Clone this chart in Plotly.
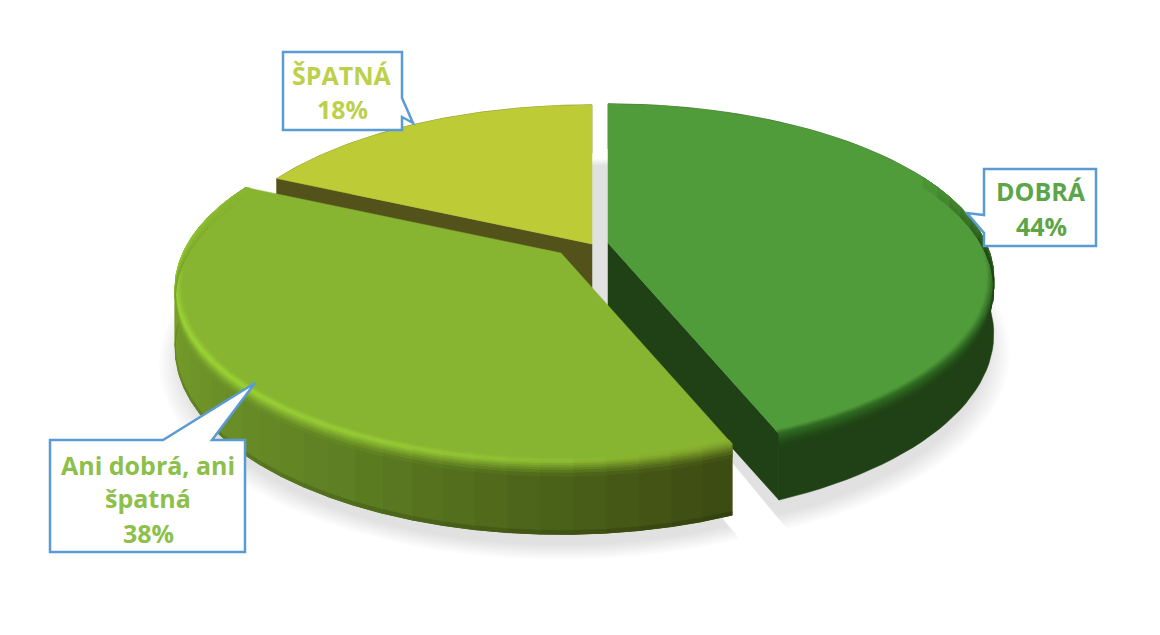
import numpy as np
import plotly.graph_objects as go

# Survey results
categories = ["DOBRÁ", "Ani dobrá, ani špatná", "ŠPATNÁ"]
shares = [44, 38, 18]
label_lines = [["DOBRÁ"], ["Ani dobrá, ani", "špatná"], ["ŠPATNÁ"]]

# Scene geometry: canvas pixels, homography of a tilted disc
RX, RY, K = 378.0, 167.0, 0.2
CENTERS = {"DOBRÁ": (608, 243), "Ani dobrá, ani špatná": (561, 253), "ŠPATNÁ": (592, 244)}


def hex2rgb(c):
    return np.array([int(c[i:i + 2], 16) for i in (1, 3, 5)], float)


def mix(a, b, t):
    return a + (b - a) * t


def css(c):
    return "rgb(%d,%d,%d)" % tuple(np.clip(np.round(c), 0, 255))


def project(center, theta, r=1.0, z=0.0):
    """Map disc polar coordinates (clockwise from the back) to canvas pixels."""
    u, v = r * np.sin(theta), r * np.cos(theta)
    w = 1 + K * v
    return center[0] + RX * u / w, center[1] - RY * v / w + z / (1 + K * np.cos(theta))


def ramp(stops, value):
    xs = [s[0] for s in stops]
    return np.array([np.interp(value, xs, [hex2rgb(s[1])[i] for s in stops]) for i in range(3)])


fig = go.Figure()


def poly(xs, ys, color, width=1.4):
    fig.add_trace(go.Scatter(
        x=list(xs), y=list(ys), mode="lines", fill="toself", fillcolor=color,
        line=dict(color=color, width=width), hoverinfo="skip", showlegend=False,
    ))


def arc(center, a0, a1, r=1.0, z=0.0, n=60):
    th = np.linspace(a0, a1, n)
    return project(center, th, r, z)


# Slice angular extents from the shares
total = sum(shares)
edges = np.cumsum([0] + shares) / total * 2 * np.pi
spans = {c: (edges[i], edges[i + 1]) for i, c in enumerate(categories)}

# Soft drop shadow, one subpath per slice so overlaps stay flat
SHADOW_DROP = 70.0
for grow in np.linspace(1.04, .985, 10):
    xs, ys = [], []
    for c in categories:
        a0, a1 = spans[c]
        cx, cy = CENTERS[c]
        if c == "ŠPATNÁ":
            cx += 18
        ax, ay = arc((cx, cy), a0, a1, grow, SHADOW_DROP)
        xs += [cx] + list(ax) + [cx, None]
        ys += [cy + SHADOW_DROP] + list(ay) + [cy + SHADOW_DROP, None]
    fig.add_trace(go.Scatter(
        x=xs, y=ys, mode="none", fill="toself", fillcolor="rgba(0,0,0,0.0105)",
        hoverinfo="skip", showlegend=False,
    ))

GREEN = dict(top="#519c3a", depth=54.0, wall=[(0, "#1f4115"), (7, "#1f4115")],
             rim=[(0, "#2f6a22"), (7, "#2f6a22")], cut="#1f4115", edge=False)
OLIVE = dict(
    top="#88b531", depth=58.0,
    wall=[(2.76, "#3c4a12"), (3.14, "#4a6018"), (3.66, "#5f8023"), (4.19, "#6f9429"), (4.71, "#7ba32c"), (5.2, "#7fa92c")],
    rim=[(2.76, "#7d9f2a"), (3.14, "#8fbf33"), (3.5, "#98cc36"), (4.2, "#9dd736"), (5.2, "#90c62f")],
    cut=None, edge=True,
)
YELLOW = dict(top="#bccb36", depth=58.0, wall=[(0, "#52521a"), (7, "#52521a")],
              rim=[(0, "#bccb36"), (7, "#bccb36")], cut="#52521a", edge=False)

# Rounded edge profile: radius, then drop as a fraction of the wall height
BANDS = [(.984, 0), (.988, 0), (.992, 0), (.996, 0), (1, 0), (1, .03), (1, .06),
         (1, .09), (1, .12), (1, .16), (1, .20)]


def draw_slice(cat, style, step=np.radians(4), bevel=True):
    center = CENTERS[cat]
    depth = style["depth"]
    a0, a1 = spans[cat]
    top = hex2rgb(style["top"])
    n = max(2, int((a1 - a0) / step))
    th = np.linspace(a0, a1, n + 1)

    # Backing for the wall in its middle tone
    ux, uy = arc(center, a0, a1, 1, 0, 80)
    lx, ly = arc(center, a1, a0, 1, depth, 80)
    poly(list(ux) + list(lx) + [ux[0]], list(uy) + list(ly) + [uy[0]],
         css(ramp(style["wall"], (a0 + a1) / 2)), width=0.5)

    # Outer wall, strip by strip so the shading can change with angle
    if len({s[1] for s in style["wall"]}) > 1:
        for t0, t1 in zip(th[:-1], th[1:]):
            mid = (t0 + t1) / 2
            x0, y0 = project(center, t0)
            x1, y1 = project(center, t1)
            x2, y2 = project(center, t1, 1, depth)
            x3, y3 = project(center, t0, 1, depth)
            poly([x0, x1, x2, x3, x0], [y0, y1, y2, y3, y0], css(ramp(style["wall"], mid)), width=1.2)
            if style["edge"]:
                x4, y4 = project(center, t1, 1, depth * .95)
                x5, y5 = project(center, t0, 1, depth * .95)
                poly([x5, x4, x2, x3, x5], [y5, y4, y2, y3, y5], css(ramp(style["wall"], mid) * .86), width=0.8)

    # Cut face towards the neighbouring slice, parallel top and bottom edges
    if style["cut"]:
        cut_angle = a1 if cat == "DOBRÁ" else a0
        x0, y0 = project(center, cut_angle)
        x1, y1 = project(center, cut_angle, 1, depth)
        cx2, cy2 = center[0], center[1] + (y1 - y0)
        poly([center[0], x0, x1, cx2, center[0]], [center[1], y0, y1, cy2, center[1]], style["cut"], width=0.5)

    # Top face
    ax, ay = arc(center, a0, a1, 1.0, 0.0, 90)
    poly([center[0]] + list(ax) + [center[0]], [center[1]] + list(ay) + [center[1]], style["top"], width=0.5)

    if not bevel:
        return

    # Rounded edge between the top face and the wall
    nb = len(BANDS) - 1
    for j in range(nb):
        (r0, z0), (r1, z1) = BANDS[j], BANDS[j + 1]
        f = (j + .5) / nb
        for t0, t1 in zip(th[:-1], th[1:]):
            mid = (t0 + t1) / 2
            v = np.cos(mid)
            # the back of the disc shows no rounded edge
            if v > .45:
                continue
            wall = ramp(style["wall"], mid)
            rim = ramp(style["rim"], mid)
            col = mix(top, rim, f / .4) if f < .4 else mix(rim, wall, (f - .4) / .6)
            col = mix(col, top, np.clip((v + .05) / .5, 0, 1))
            xa, ya = project(center, t0, r0, z0 * depth)
            xb, yb = project(center, t1, r0, z0 * depth)
            xc, yc = project(center, t1, r1, z1 * depth)
            xd, yd = project(center, t0, r1, z1 * depth)
            poly([xa, xb, xc, xd, xa], [ya, yb, yc, yd, ya], css(col), width=1.0)


draw_slice("ŠPATNÁ", YELLOW, step=np.radians(8), bevel=False)
draw_slice("DOBRÁ", GREEN)
draw_slice("Ani dobrá, ani špatná", OLIVE)

# Callout boxes: outline with pointer
BORDER = "#5b9bd5"
callouts = [
    [(984, 169), (1096, 169), (1096, 246), (984, 246), (984, 233), (967, 213), (984, 215)],
    [(50, 440), (163, 440), (255, 383), (212, 440), (245, 440), (245, 552), (50, 552)],
    [(283, 52), (402, 52), (402, 98), (413, 123), (402, 117), (402, 130), (283, 130)],
]
shapes = []
for pts in callouts:
    path = "M" + " L".join(f"{x},{y}" for x, y in pts) + " Z"
    shapes.append(dict(type="path", path=path, xref="x", yref="y", layer="above",
                       fillcolor="white", line=dict(color=BORDER, width=2.5)))

# Callout text, line by line
TEXT_COLORS = {"DOBRÁ": "#5ca548", "Ani dobrá, ani špatná": "#8cc04a", "ŠPATNÁ": "#bdd04c"}
TEXT_POS = {
    "DOBRÁ": (1041, [191, 226]),
    "Ani dobrá, ani špatná": (148, [465, 498, 533]),
    "ŠPATNÁ": (342, [75, 109]),
}
annotations = []
for cat, share, lines in zip(categories, shares, label_lines):
    tx, tys = TEXT_POS[cat]
    for line, ty in zip(lines + [f"{share}%"], tys):
        annotations.append(dict(
            x=tx, y=ty, xref="x", yref="y", text=f"<b>{line}</b>", showarrow=False,
            font=dict(family="Open Sans", size=25, color=TEXT_COLORS[cat]),
            xanchor="center", yanchor="middle",
        ))

fig.update_layout(
    width=1160, height=635, margin=dict(l=0, r=0, t=0, b=0),
    paper_bgcolor="white", plot_bgcolor="white", showlegend=False,
    xaxis=dict(range=[0, 1160], visible=False, fixedrange=True),
    yaxis=dict(range=[635, 0], visible=False, fixedrange=True),
    shapes=shapes, annotations=annotations,
)
fig.write_html("out.html")
